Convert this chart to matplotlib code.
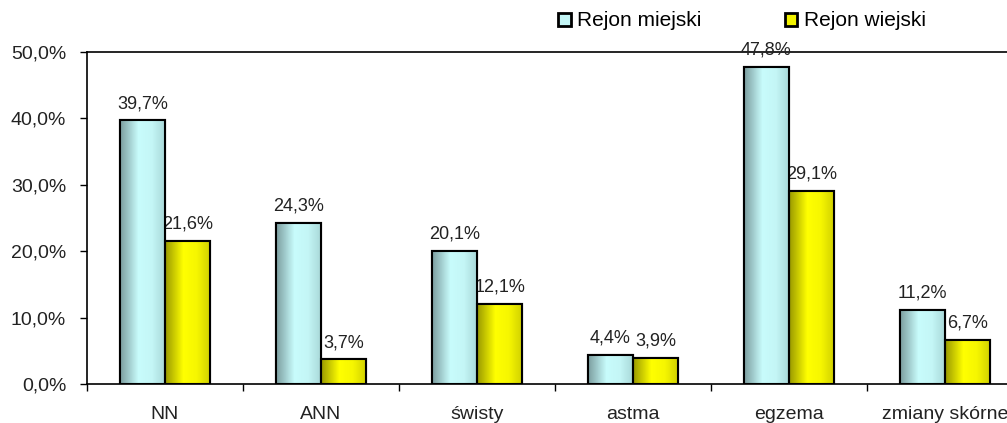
import numpy as np
import matplotlib
matplotlib.use("Agg")
import matplotlib.pyplot as plt
from matplotlib.patches import Patch
from matplotlib.colors import LinearSegmentedColormap

plt.rcParams['font.family'] = ['Liberation Sans', 'DejaVu Sans']

# data
categories = ['NN', 'ANN', 'świsty', 'astma', 'egzema', 'zmiany skórne']
miejski = [39.7, 24.3, 20.1, 4.4, 47.8, 11.2]
wiejski = [21.6, 3.7, 12.1, 3.9, 29.1, 6.7]
series_names = ['Rejon miejski', 'Rejon wiejski']

col_m = '#c4f6f6'
col_w = '#f4f400'
# excel-ish horizontal shading: darker left edge, light middle
grad_m = LinearSegmentedColormap.from_list('gm', [(0, '#7c9ea0'), (0.4, '#c8fcfc'), (0.7, '#c4f6f6'), (1, '#a8d8d8')])
grad_w = LinearSegmentedColormap.from_list('gw', [(0, '#9a9a00'), (0.4, '#ffff00'), (0.7, '#f6f600'), (1, '#d0d000')])

fig = plt.figure(figsize=(10.07, 4.23), dpi=100)
# plot area runs past the right edge, like in the original screenshot
ax = fig.add_axes([87/1007, 1 - 384/423, 936/1007, 332/423])

x = np.arange(len(categories))
w = 0.29
grad = np.linspace(0, 1, 64).reshape(1, -1)

def shaded_bars(xs, vals, cmap, col):
    bars = ax.bar(xs, vals, w, color=col, edgecolor='black', linewidth=1.5, zorder=3)
    for b in bars:
        x0, y0 = b.get_x(), b.get_y()
        im = ax.imshow(grad, cmap=cmap, aspect='auto', zorder=3.5,
                       extent=(x0, x0 + b.get_width(), y0, y0 + b.get_height()))
        im.set_clip_path(b)
        # redraw the outline on top of the shading
        ax.bar(b.get_x() + b.get_width()/2, b.get_height(), w, fill=False,
               edgecolor='black', linewidth=1.5, zorder=4)

shaded_bars(x - w/2, miejski, grad_m, col_m)
shaded_bars(x + w/2, wiejski, grad_w, col_w)

def fmt(v):
    return ('%.1f%%' % v).replace('.', ',')

for i in range(len(categories)):
    ax.annotate(fmt(miejski[i]), (x[i] - w/2, miejski[i]), xytext=(0, 6),
                textcoords='offset points', ha='center', va='bottom', fontsize=13, color='#222222')
    ax.annotate(fmt(wiejski[i]), (x[i] + w/2, wiejski[i]), xytext=(0, 6),
                textcoords='offset points', ha='center', va='bottom', fontsize=13, color='#222222')

ax.set_xlim(-0.5, len(categories) - 0.5)
ax.set_ylim(0, 50)
ax.set_yticks([0, 10, 20, 30, 40, 50])
ax.set_yticklabels([fmt(t) for t in [0, 10, 20, 30, 40, 50]], fontsize=14, color='#222222')

# category ticks sit between groups, labels sit at group centres
ax.set_xticks(np.arange(len(categories) + 1) - 0.5)
ax.set_xticklabels([])
ax.set_xticks(x, minor=True)
ax.set_xticklabels(categories, minor=True, fontsize=14, color='#222222')
ax.tick_params(axis='x', which='minor', length=0, pad=16)
ax.tick_params(axis='x', which='major', length=5, width=1, direction='out')
ax.tick_params(axis='y', length=5, width=1, direction='out', pad=10)

for s in ax.spines.values():
    s.set_linewidth(1.2)

handles = [Patch(facecolor=col_m, edgecolor='black', linewidth=2),
           Patch(facecolor=col_w, edgecolor='black', linewidth=2)]
fig.legend(handles, series_names, loc='center', bbox_to_anchor=(742/1007, 1 - 21/423),
           ncol=2, frameon=False, fontsize=15, handlelength=0.6, handleheight=0.6,
           handletextpad=0.3, columnspacing=4.0)

fig.savefig('out.png', dpi=100)
